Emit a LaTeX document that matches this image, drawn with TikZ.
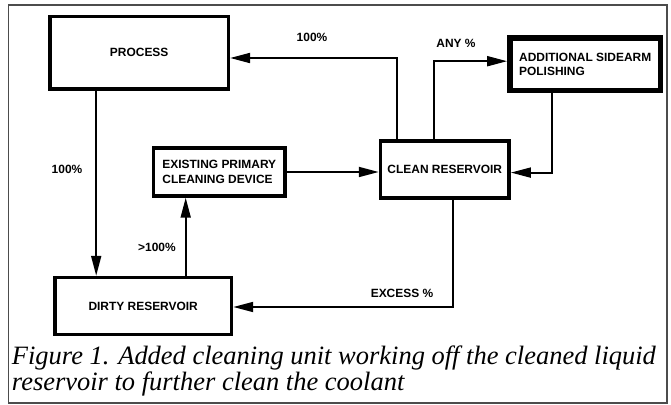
\documentclass[tikz,border=0pt]{standalone}
\usepackage{fontspec}
\setmainfont{Liberation Serif}
\newfontfamily\blockfont{Liberation Sans}
\usetikzlibrary{arrows.meta,calc}

\begin{document}
\begin{tikzpicture}[x=0.03cm, y=-0.03cm,
  unit/.style={draw, line width=3pt, inner sep=0pt, align=left,
    font=\blockfont\bfseries\fontsize{10.2}{12.8}\selectfont},
  tag/.style={inner sep=0pt, font=\blockfont\bfseries\fontsize{10.2}{12}\selectfont},
  flow/.style={line width=1.6pt, -{Triangle[length=17pt, width=8.5pt]}}]
\useasboundingbox (0,0) rectangle (671,405);
\draw[line width=1pt, black!70] (8.5,5) rectangle (667,403);
% blocks
\node[unit, minimum width=5.35cm, minimum height=2.175cm] (process) at (139.2,52.7) {PROCESS};
\node[unit, minimum width=3.95cm, minimum height=1.44cm] (existing) at (219.3,172) {EXISTING PRIMARY\\CLEANING DEVICE};
\node[unit, minimum width=3.86cm, minimum height=1.71cm] (clean) at (444.8,169.3) {CLEAN RESERVOIR};
\node[unit, line width=4.7pt, minimum width=4.52cm, minimum height=1.575cm,
  font=\blockfont\bfseries\fontsize{10.2}{11.6}\selectfont] (sidearm) at (585.2,64.2) {ADDITIONAL SIDEARM\\POLISHING};
\node[unit, minimum width=5.3cm, minimum height=1.71cm] (dirty) at (143.2,306) {DIRTY RESERVOIR};
% flow labels
\node[tag] (backpct) at (312,37) {100\%};
\node[tag] (anypct) at (456,43) {ANY \%};
\node[tag] (downpct) at (67,169) {100\%};
\node[tag] (uppct) at (157,247) {>100\%};
\node[tag] (excesspct) at (402,293) {EXCESS \%};
% connectors
\coordinate (pdrop) at ($(process.south)+(-43,0)$);
\coordinate (drise) at ($(dirty.north)+(42.5,0)$);
\draw[flow] ($(clean.north)+(-48,0)$) |- ($(process.east)+(0,5.3)$);
\draw[flow] ($(clean.north)+(-10.8,0)$) |- ($(sidearm.west)+(0,-3)$);
\draw[flow] ($(sidearm.south)+(-33.3,0)$) |- ($(clean.east)+(0,3.3)$);
\draw[flow] (existing.east) -- (existing.east -| clean.west);
\draw[flow] (pdrop) -- (pdrop |- dirty.north);
\draw[flow] (drise) -- (drise |- existing.south);
\draw[flow] ($(clean.south)+(8.5,0)$) |- ($(dirty.east)+(0,1)$);
% caption
\node[anchor=base west, inner sep=0pt, align=left, font=\itshape\fontsize{22.6}{23}\selectfont] (caption) at (11.7,391)
  {Figure 1. Added cleaning unit working off the cleaned liquid\\reservoir to further clean the coolant};
\end{tikzpicture}
\end{document}
